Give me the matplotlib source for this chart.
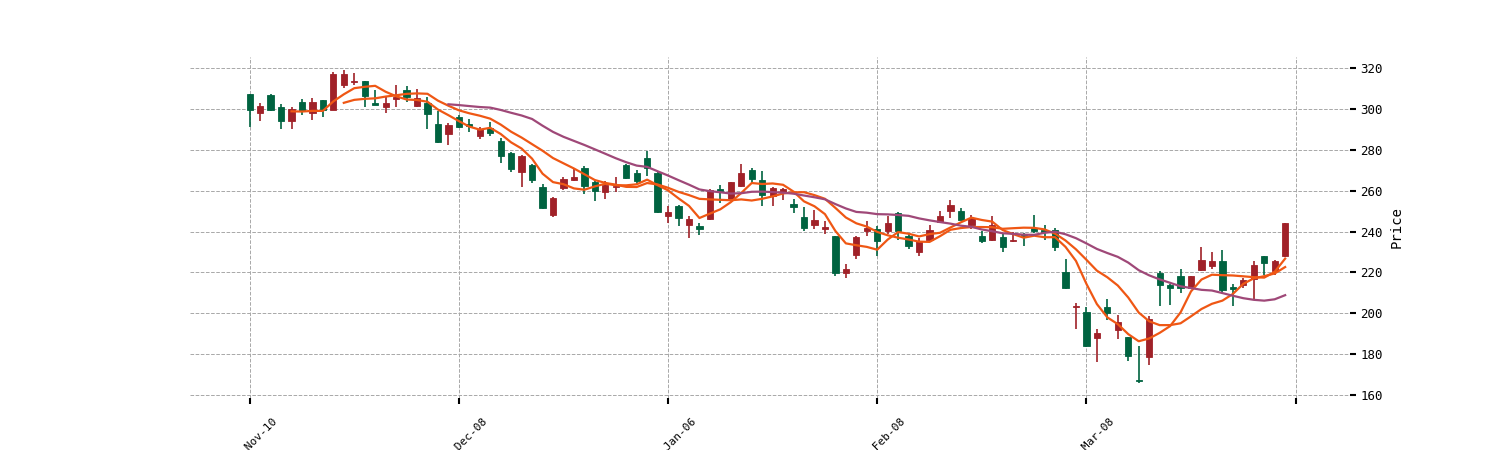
import matplotlib
matplotlib.use('Agg')
import matplotlib.pyplot as plt
import numpy as np
import pandas as pd

# OHLC values (100 trading days)
opens = [307.4, 298.1, 307.2, 301.2, 294.0, 303.3, 298.1, 304.3, 299.7, 311.9,
         313.1, 313.6, 302.8, 301.0, 305.1, 309.5, 301.8, 303.0, 292.9, 288.0,
         296.4, 292.7, 286.7, 290.8, 284.2, 278.5, 269.0, 272.8, 261.9, 248.4,
         261.4, 265.5, 271.2, 264.2, 259.3, 261.7, 272.5, 268.8, 276.1, 268.8,
         247.9, 252.4, 243.5, 242.6, 246.3, 261.1, 256.0, 262.2, 270.0, 265.2,
         257.7, 259.0, 253.6, 247.2, 243.1, 241.4, 237.7, 219.5, 228.8, 240.5,
         241.4, 240.2, 249.2, 238.1, 229.9, 235.8, 244.6, 250.0, 250.0, 243.5,
         238.1, 236.1, 237.3, 235.2, 238.6, 241.9, 240.7, 241.0, 220.2, 202.9,
         200.8, 187.7, 203.0, 191.8, 188.3, 167.2, 178.6, 219.5, 213.7, 218.5,
         212.3, 221.0, 223.1, 225.5, 212.8, 214.0, 216.6, 228.0, 220.6, 228.3]
highs = [307.6, 303.0, 307.5, 302.5, 301.0, 305.0, 305.4, 304.5, 318.2, 319.0,
         317.6, 314.0, 309.5, 306.0, 312.0, 311.5, 310.0, 306.0, 299.0, 293.0,
         297.0, 295.0, 291.5, 293.7, 286.0, 279.0, 277.5, 273.0, 263.4, 257.0,
         266.8, 270.7, 272.0, 265.0, 264.7, 266.8, 273.0, 270.0, 279.3, 269.5,
         252.8, 253.0, 247.5, 244.0, 261.0, 263.0, 264.5, 273.3, 271.2, 269.5,
         262.0, 261.5, 256.0, 252.0, 250.5, 245.1, 238.0, 224.3, 238.0, 245.1,
         243.0, 247.5, 249.5, 239.0, 237.0, 243.5, 250.0, 255.7, 251.6, 248.0,
         240.2, 247.5, 239.5, 239.7, 239.5, 248.4, 243.5, 242.0, 226.7, 205.0,
         203.2, 192.1, 206.8, 199.0, 188.5, 184.0, 198.6, 220.6, 214.5, 221.8,
         218.5, 232.6, 230.0, 230.9, 214.3, 217.5, 225.5, 228.2, 226.3, 244.3]
lows = [291.5, 294.3, 299.3, 290.4, 290.4, 297.3, 294.8, 296.4, 299.5, 310.3,
        312.0, 301.3, 301.9, 298.1, 301.3, 303.3, 301.0, 290.3, 283.5, 282.6,
        291.0, 289.0, 285.4, 286.7, 273.6, 269.0, 261.9, 263.9, 251.0, 247.2,
        260.6, 265.0, 258.6, 254.9, 256.0, 259.3, 266.0, 263.0, 267.4, 249.0,
        244.3, 243.0, 237.0, 238.6, 245.5, 254.1, 255.5, 262.0, 264.0, 252.8,
        252.8, 255.4, 248.9, 240.2, 241.5, 239.0, 218.5, 217.2, 226.8, 238.1,
        228.3, 239.0, 236.1, 231.7, 228.0, 235.0, 244.0, 246.7, 245.5, 241.4,
        234.5, 235.5, 230.1, 234.8, 233.2, 239.5, 235.8, 230.4, 212.0, 192.1,
        183.5, 176.3, 196.7, 187.2, 176.7, 166.0, 174.5, 203.5, 204.3, 210.0,
        212.0, 220.5, 221.5, 210.0, 203.8, 212.2, 207.1, 219.0, 219.0, 227.8]
closes = [299.4, 301.7, 299.7, 294.0, 300.0, 298.9, 303.3, 299.7, 317.3, 317.3,
          313.9, 306.7, 302.1, 302.8, 306.2, 306.0, 305.5, 297.8, 283.7, 292.4,
          291.5, 292.0, 290.3, 288.3, 277.2, 270.9, 276.9, 265.5, 251.6, 256.5,
          265.8, 266.6, 262.2, 259.8, 263.0, 262.2, 266.3, 264.7, 271.2, 249.5,
          249.5, 246.7, 246.3, 241.4, 260.3, 260.1, 264.2, 268.8, 265.8, 257.9,
          261.4, 260.9, 252.1, 241.9, 245.9, 242.2, 219.5, 221.8, 237.3, 241.9,
          235.3, 244.3, 240.2, 233.2, 235.3, 241.0, 247.5, 253.2, 245.9, 246.7,
          235.3, 243.5, 232.4, 236.1, 237.9, 240.2, 239.7, 232.6, 212.3, 203.5,
          184.0, 190.2, 200.0, 195.7, 179.0, 166.6, 197.0, 213.7, 212.3, 212.5,
          218.2, 226.0, 225.5, 211.2, 211.7, 216.2, 223.9, 224.4, 225.5, 244.0]

mav_periods = [5, 10, 20]
mav_colors = ['#ef5714', '#ef5714', '#9f4878']
tick_pos = [0, 20, 40, 60, 80, 100]
tick_labels = ['2020-Nov-10', '2020-Dec-08', '2021-Jan-06', '2021-Feb-08', '2021-Mar-08', '']

up_color = '#a02128'
down_color = '#006340'

plt.rcParams['font.family'] = ['DejaVu Sans Mono', 'DejaVu Sans']

df = pd.DataFrame({'open': opens, 'high': highs, 'low': lows, 'close': closes})
x = np.arange(len(df))
colors = [up_color if c >= o else down_color for o, c in zip(df['open'], df['close'])]

fig = plt.figure(figsize=(15, 4.5), dpi=100)
ax = fig.add_axes([0.1267, 0.1156, 0.7733, 0.7578])

ax.grid(True, linestyle='--', color='#a8a8a8', linewidth=0.7)
ax.set_axisbelow(True)

# wicks then bodies
ax.vlines(x, df['low'], df['high'], colors=colors, linewidth=1.2, zorder=2)
ax.bar(x, df['close'] - df['open'], bottom=df['open'], width=0.6,
       color=colors, edgecolor=colors, linewidth=0.6, zorder=3)

for p, c in zip(mav_periods, mav_colors):
    ma = df['close'].rolling(p).mean()
    ax.plot(x, ma, color=c, linewidth=1.6, zorder=4)

ax.set_xlim(-5.7, 105.2)
ax.set_ylim(158.5, 325.6)

ax.set_xticks(tick_pos)
ax.set_xticklabels(tick_labels, rotation=45, ha='center', fontsize=8)
ax.set_yticks(np.arange(160, 321, 20))
ax.yaxis.tick_right()
ax.yaxis.set_label_position('right')
ax.set_ylabel('Price', fontsize=10, labelpad=5)
ax.tick_params(axis='both', length=4, width=1.5)
ax.tick_params(axis='y', labelsize=9)
ax.tick_params(axis='x', pad=8.5)

for s in ax.spines.values():
    s.set_visible(False)

fig.savefig('out.png', dpi=100)
